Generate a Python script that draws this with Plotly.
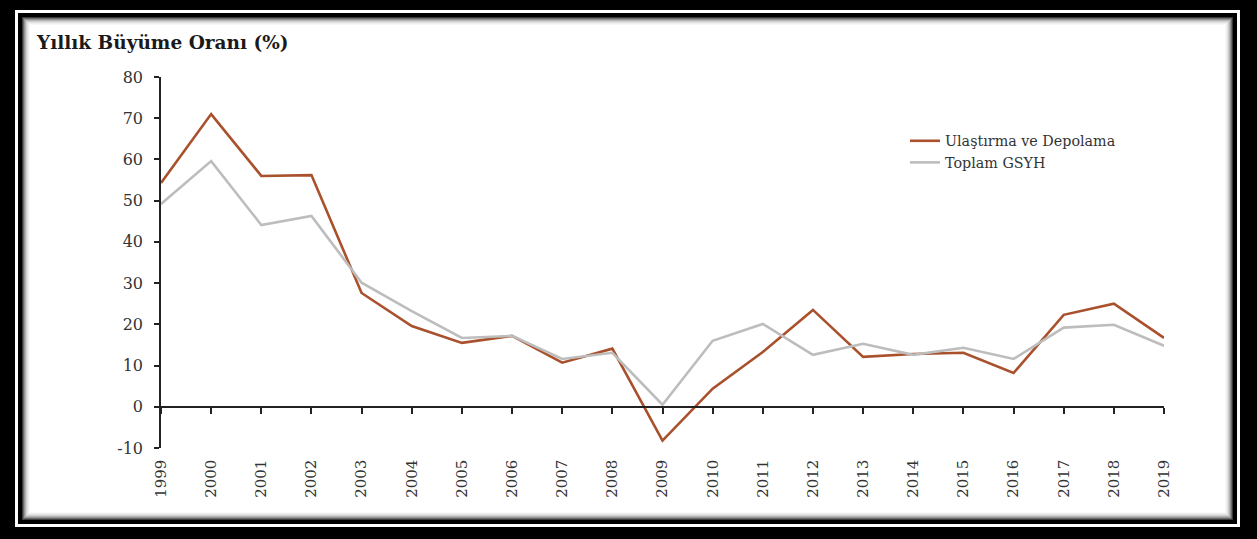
import plotly.graph_objects as go

# Annual growth rates (%), 1999-2019
years = list(range(1999, 2020))
ulastirma = [54.3, 71.0, 56.0, 56.2, 27.6, 19.6, 15.5, 17.2, 10.7, 14.1, -8.2,
             4.4, 13.3, 23.5, 12.1, 12.8, 13.1, 8.2, 22.3, 25.0, 16.7]
gsyh = [49.2, 59.6, 44.1, 46.3, 30.1, 23.2, 16.7, 17.2, 11.6, 13.1, 0.5,
        16.0, 20.1, 12.6, 15.3, 12.6, 14.3, 11.6, 19.2, 19.9, 14.8]
y_ticks = list(range(-10, 90, 10))
y_tick_text = [str(v) for v in y_ticks]  # plain hyphen for negatives
series_names = ["Ulaştırma ve Depolama", "Toplam GSYH"]
title_text = "Yıllık Büyüme Oranı (%)"

W, H = 1257, 539
ML, MR, MT, MB = 161, 93, 77, 91
PW, PH = W - ML - MR, H - MT - MB


def px_x(p):
    return (p - ML) / PW


def px_y(p):
    return (H - MB - p) / PH


SERIF = "DejaVu Serif"

fig = go.Figure()
fig.add_trace(go.Scatter(x=years, y=ulastirma, mode="lines", name=series_names[0],
                         line=dict(color="#A9502C", width=2.6)))
fig.add_trace(go.Scatter(x=years, y=gsyh, mode="lines", name=series_names[1],
                         line=dict(color="#BDBDBD", width=2.6)))

# Double frame with a soft inner shadow
shapes = []


def rect(l, t, r, b, color, layer="below"):
    return dict(type="rect", xref="paper", yref="paper",
                x0=px_x(l), x1=px_x(r), y0=px_y(b), y1=px_y(t),
                fillcolor=color, line=dict(width=0), layer=layer)


shapes.append(rect(15, 10, 1240, 527, "white"))
shapes.append(rect(18, 13, 1237, 524, "black"))
shade = ["#3a3a3a", "#6a6a6a", "#949494", "#b5b5b5", "#cfcfcf", "#e2e2e2", "#efefef", "#f8f8f8", "white"]
for i, c in enumerate(shade):
    shapes.append(rect(22 + i, 17 + i, 1233 - i, 520 - i, c))

fig.update_layout(
    width=W, height=H,
    margin=dict(l=ML, r=MR, t=MT, b=MB),
    paper_bgcolor="black",
    plot_bgcolor="rgba(0,0,0,0)",
    shapes=shapes,
    showlegend=True,
    legend=dict(x=px_x(905), y=px_y(125), xanchor="left", yanchor="top",
                bgcolor="rgba(0,0,0,0)", font=dict(family=SERIF, size=14.3, color="#333333"),
                itemwidth=30, tracegroupgap=0),
    annotations=[dict(text=title_text, xref="paper", yref="paper",
                      x=px_x(34), y=px_y(43), xanchor="left", yanchor="middle",
                      showarrow=False,
                      font=dict(family=SERIF, size=18.5, color="#1a1a1a", weight="bold"))],
    xaxis=dict(range=[1999, 2019], tickvals=years, ticktext=[str(y) for y in years],
               anchor="free", position=10 / 90,
               showline=True, linecolor="#222222", linewidth=1.6,
               ticks="outside", ticklen=6, tickwidth=1.6, tickcolor="#222222",
               tickangle=-90, ticklabelstandoff=40,
               tickfont=dict(family=SERIF, size=15, color="#333333"),
               showgrid=False, zeroline=False),
    yaxis=dict(range=[-10, 80], tickvals=y_ticks, ticktext=y_tick_text,
               showline=True, linecolor="#222222", linewidth=1.6,
               ticks="outside", ticklen=5, tickwidth=1.6, tickcolor="#222222",
               ticklabelstandoff=8,
               tickfont=dict(family=SERIF, size=16, color="#333333"),
               showgrid=False, zeroline=False),
)

fig.write_html("out.html")
